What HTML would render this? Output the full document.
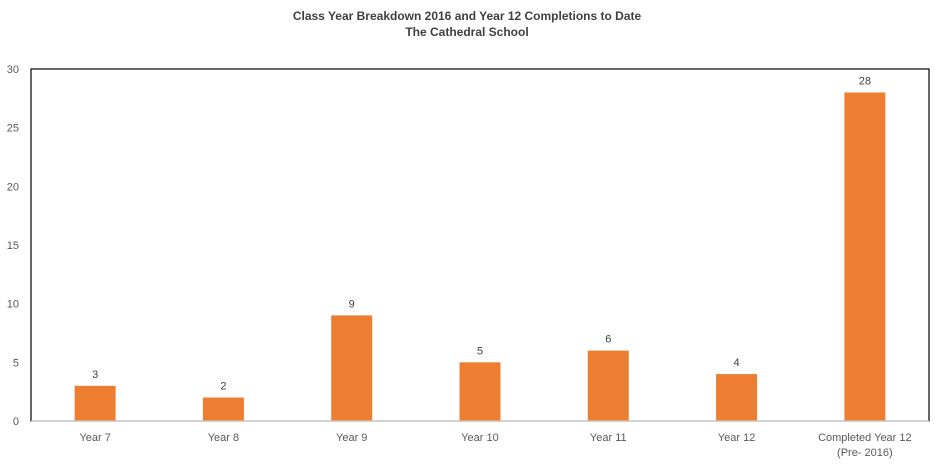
<!DOCTYPE html>
<html><head><meta charset="utf-8"><style>
body{margin:0;background:#fff;}
svg{display:block;font-family:"Liberation Sans",sans-serif;}
</style></head><body>
<svg id="chart" width="935" height="473">
<text x="467" y="20" text-anchor="middle" font-size="12" font-weight="bold" fill="#404040">Class Year Breakdown 2016 and Year 12 Completions to Date</text>
<text x="467" y="36" text-anchor="middle" font-size="12" font-weight="bold" fill="#404040">The Cathedral School</text>
<rect x="31" y="69" width="898" height="352" fill="none" stroke="#000" stroke-width="1.2"/>
<g id="bars"></g>
</svg>
<script>
const categories=["Year 7","Year 8","Year 9","Year 10","Year 11","Year 12","Completed Year 12|(Pre- 2016)"];
const values=[3,2,9,5,6,4,28];
const yTicks=[0,5,10,15,20,25,30];
const L=31,R=929,T=69,B=421,yMax=30;
const svg=document.getElementById('chart');
const g=document.getElementById('bars');
const NS='http://www.w3.org/2000/svg';
const y=v=>B-(v/yMax)*(B-T);
const bw=(R-L)/categories.length;
const xc=i=>L+bw*(i+0.5);
function mk(t,a,txt){const e=document.createElementNS(NS,t);for(const k in a)e.setAttribute(k,a[k]);if(txt!=null)e.textContent=txt;return e;}
yTicks.forEach(t=>{
  const e=mk('text',{x:19,y:y(t)+4,'text-anchor':'end','font-size':11,fill:'#595959'},t);
  
  
  svg.appendChild(e);
});
const ax=mk('line',{x1:L,x2:R,y1:B,y2:B,stroke:'#d9d9d9','stroke-width':1});


svg.appendChild(ax);
categories.forEach((c,i)=>{
  const v=values[i],cx=xc(i);
  const r=mk('rect',{x:cx-20.5,y:y(v),width:41,height:B-y(v),fill:'#ed7d31'});
  
  
  g.appendChild(r);
  const l=mk('text',{x:cx,y:y(v)-8,'text-anchor':'middle','font-size':11,fill:'#404040'},v);
  
  
  g.appendChild(l);
  c.split('|').forEach((line,j)=>{
    const t=mk('text',{x:cx,y:441+j*15,'text-anchor':'middle','font-size':11,fill:'#595959'},line);
    
    
    svg.appendChild(t);
  });
});
</script>
</body></html>
